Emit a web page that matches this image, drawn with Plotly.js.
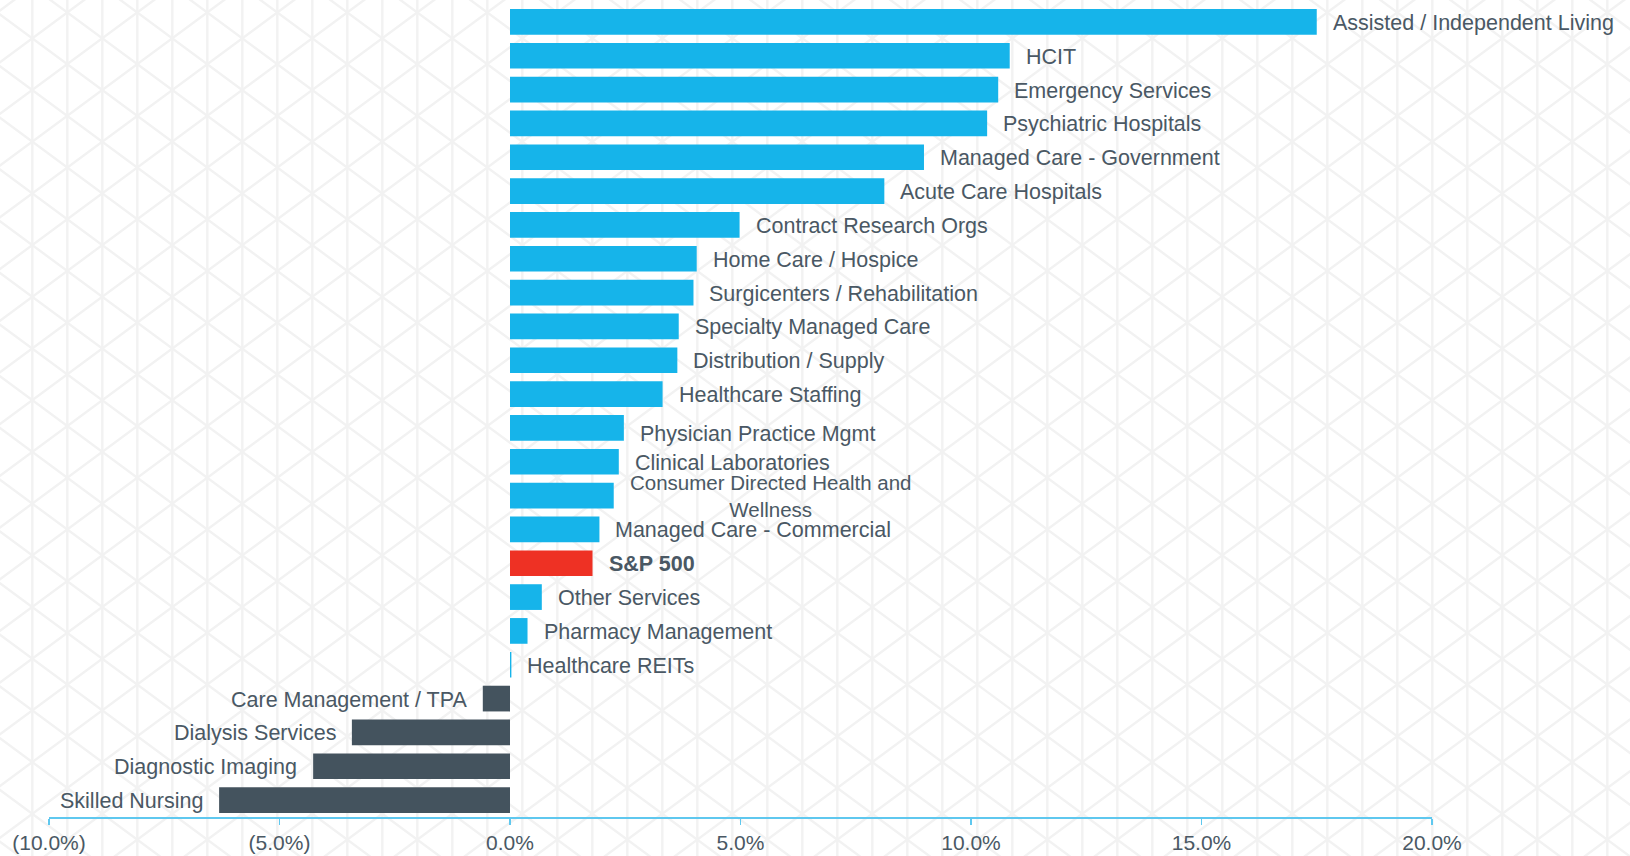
<!DOCTYPE html>
<html>
<head>
<meta charset="utf-8">
<script src="https://cdn.plot.ly/plotly-3.0.1.min.js"></script>
<style>
html,body{margin:0;padding:0;background:#ffffff;}
#chart{width:1630px;height:856px;}
</style>
</head>
<body>
<div id="chart"></div>
<script>
// ---- data (top to bottom) ----
const categories = [
  "Assisted / Independent Living",
  "HCIT",
  "Emergency Services",
  "Psychiatric Hospitals",
  "Managed Care - Government",
  "Acute Care Hospitals",
  "Contract Research Orgs",
  "Home Care / Hospice",
  "Surgicenters / Rehabilitation",
  "Specialty Managed Care",
  "Distribution / Supply",
  "Healthcare Staffing",
  "Physician Practice Mgmt",
  "Clinical Laboratories",
  "Consumer Directed Health and<br>Wellness",
  "Managed Care - Commercial",
  "S&P 500",
  "Other Services",
  "Pharmacy Management",
  "Healthcare REITs",
  "Care Management / TPA",
  "Dialysis Services",
  "Diagnostic Imaging",
  "Skilled Nursing"
];
const returnsPct = [
  17.50, 10.84, 10.59, 10.35, 8.98, 8.12, 4.98, 4.05, 3.98, 3.66, 3.63, 3.31,
  2.47, 2.36, 2.25, 1.94, 1.79, 0.69, 0.38, 0.03, -0.59, -3.43, -4.27, -6.31
];
const benchmarkName = "S&P 500";
const tickValues = [-10, -5, 0, 5, 10, 15, 20];
const tickLabels = ["(10.0%)", "(5.0%)", "0.0%", "5.0%", "10.0%", "15.0%", "20.0%"];

// ---- styles ----
const BLUE = "#16b4ea", RED = "#ee3124", DARK = "#44535e";
const TEXT = "#4a5864";
const FONT = "Liberation Sans, Arial, Helvetica, sans-serif";
const W = 1630, H = 856;
const M = {l: 49, r: 198, t: 5, b: 39};

const colors = categories.map((c, i) =>
  c === benchmarkName ? RED : (returnsPct[i] < 0 ? DARK : BLUE));

// ---- decorative triangle lattice background ----
function latticeSvg() {
  const dx = 35, dy = 51.7, x0 = 32.3, y0 = 38.3, slope = dy / (2 * dx);
  let s = `<svg xmlns="http://www.w3.org/2000/svg" width="${W}" height="${H}" viewBox="0 0 ${W} ${H}">`;
  s += `<g stroke="#f2f2f2" stroke-width="2.4" fill="none">`;
  for (let x = x0 - dx; x < W + dx; x += dx) {
    s += `<line x1="${x.toFixed(1)}" y1="0" x2="${x.toFixed(1)}" y2="${H}"/>`;
  }
  for (let n = -40; n < 40; n++) {
    const yb = y0 + n * dy;
    const xa = -100, xb = W + 100;
    const ya1 = yb + (xa - x0) * slope, yb1 = yb + (xb - x0) * slope;
    s += `<line x1="${xa}" y1="${ya1.toFixed(1)}" x2="${xb}" y2="${yb1.toFixed(1)}"/>`;
    const ya2 = yb - (xa - x0) * slope, yb2 = yb - (xb - x0) * slope;
    s += `<line x1="${xa}" y1="${ya2.toFixed(1)}" x2="${xb}" y2="${yb2.toFixed(1)}"/>`;
  }
  s += `</g></svg>`;
  return "data:image/svg+xml;charset=utf-8," + encodeURIComponent(s);
}

const pw = W - M.l - M.r, ph = H - M.t - M.b;

const trace = {
  type: "bar",
  orientation: "h",
  y: categories,
  x: returnsPct,
  marker: {color: colors, line: {width: 0}},
  hoverinfo: "x+y",
  showlegend: false
};

const annotations = categories.map((c, i) => {
  const v = returnsPct[i];
  const neg = v < 0;
  const isBench = c === benchmarkName;
  const wrapped = c.indexOf("<br>") >= 0;
  return {
    x: v, y: c, xref: "x", yref: "y",
    text: isBench ? "<b>" + c + "</b>" : c,
    showarrow: false,
    xanchor: neg ? "right" : "left",
    yanchor: "middle",
    align: "center",
    xshift: neg ? -14 : 14,
    yshift: c === "Physician Practice Mgmt" ? -6 : (wrapped ? 0 : -1),
    font: {family: FONT, size: wrapped ? 20.5 : 21.5, color: TEXT}
  };
});

const layout = {
  width: W, height: H,
  margin: M,
  paper_bgcolor: "#ffffff",
  plot_bgcolor: "rgba(0,0,0,0)",
  bargap: 0.24,
  font: {family: FONT, size: 21, color: TEXT},
  xaxis: {
    range: [-10, 20],
    tickvals: tickValues,
    ticktext: tickLabels,
    showgrid: false,
    zeroline: false,
    showline: true,
    linecolor: "#5fc8ef",
    linewidth: 1.5,
    ticks: "outside",
    ticklen: 6,
    tickwidth: 1.2,
    tickcolor: "#5fc8ef",
    tickfont: {family: FONT, size: 21, color: TEXT},
    fixedrange: true
  },
  yaxis: {
    type: "category",
    autorange: "reversed",
    showticklabels: false,
    showgrid: false,
    zeroline: false,
    showline: false,
    ticks: "",
    fixedrange: true
  },
  annotations: annotations,
  images: [{
    source: latticeSvg(),
    xref: "paper", yref: "paper",
    x: -M.l / pw, y: 1 + M.t / ph,
    sizex: W / pw, sizey: H / ph,
    xanchor: "left", yanchor: "top",
    sizing: "stretch",
    layer: "below"
  }]
};

Plotly.newPlot("chart", [trace], layout, {displayModeBar: false, staticPlot: true});
</script>
</body>
</html>
